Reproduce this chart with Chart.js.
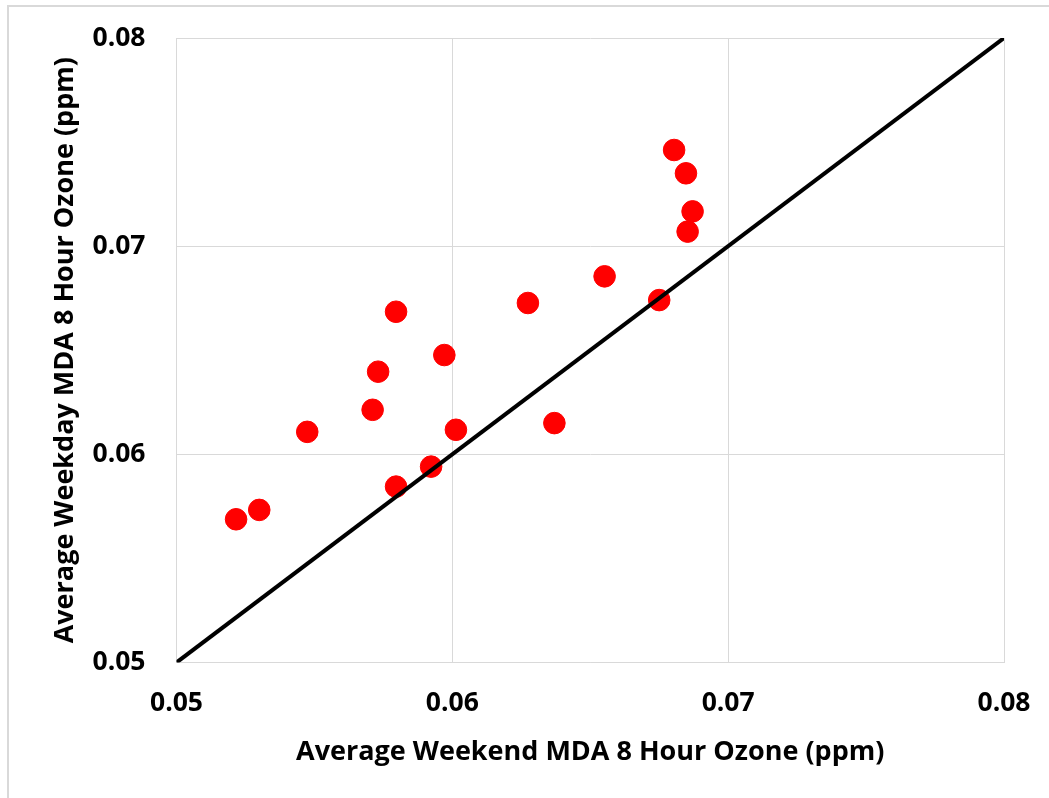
<!DOCTYPE html>
<html>
<head>
<meta charset="utf-8">
<script src="https://cdn.jsdelivr.net/npm/chart.js@4.4.1/dist/chart.umd.min.js"></script>
<style>
  html, body { margin: 0; padding: 0; background: #fff; overflow: hidden; }
  #wrap { width: 1049px; height: 798px; position: relative; }
  #frame { position: absolute; left: 7px; top: 5px; width: 1100px; height: 792px;
           border-left: 2px solid #d9d9d9; border-top: 2px solid #d9d9d9; pointer-events: none; }
</style>
</head>
<body>
<div id="wrap"><canvas id="Scatter"></canvas><div id="frame"></div></div>
<script>
// weekend vs weekday ozone averages (ppm)
const weekendOzone = [0.05216, 0.0530, 0.05474, 0.05711, 0.05731, 0.05796, 0.05796, 0.05923, 0.05971,
    0.06013, 0.06274, 0.0637, 0.06552, 0.0675, 0.06804, 0.06847, 0.06871, 0.06853];
const weekdayOzone = [0.05688, 0.05733, 0.06108, 0.06214, 0.06397, 0.06685, 0.05845, 0.05941, 0.06477,
    0.06118, 0.06727, 0.0615, 0.06855, 0.06741, 0.07462, 0.0735, 0.07167, 0.0707];
const oneToOne = [0.05, 0.08];
const tickValues = [0.05, 0.06, 0.07, 0.08];

const Scatter = document.getElementById('Scatter');
const points = weekendOzone.map((x, i) => ({ x: x, y: weekdayOzone[i] }));
const diagonal = oneToOne.map(v => ({ x: v, y: v }));

const tickFont = { family: '"Open Sans", Lato, sans-serif', size: 26.5, weight: 'bold' };
const titleFont = { family: '"Open Sans", Lato, sans-serif', size: 27, weight: 'bold' };

new Chart(Scatter, {
    type: 'scatter',
    data: {
        datasets: [
            {
                label: '1:1',
                type: 'line',
                data: diagonal,
                borderColor: '#000000',
                borderWidth: 4,
                pointRadius: 0,
                fill: false
            },
            {
                label: 'Sites',
                data: points,
                backgroundColor: '#ff0000',
                borderColor: '#ff0000',
                pointRadius: 10.8,
                pointHoverRadius: 10.8
            }
        ]
    },
    options: {
        responsive: true,
        maintainAspectRatio: false,
        animation: false,
        devicePixelRatio: 1,
        layout: { padding: { top: 38, right: 45, left: 0, bottom: 0 } },
        plugins: {
            legend: { display: false },
            tooltip: { enabled: false }
        },
        scales: {
            x: {
                type: 'linear',
                min: 0.05,
                max: 0.08,
                afterBuildTicks: s => { s.ticks = tickValues.map(v => ({ value: v })); },
                afterFit: s => { s.height = 135.5; s.paddingLeft = 0; s.paddingRight = 0; },
                grid: { color: '#d9d9d9', lineWidth: 1, drawTicks: false },
                border: { color: '#d9d9d9', width: 1 },
                ticks: {
                    color: '#000',
                    font: tickFont,
                    padding: 25,
                    maxRotation: 0,
                    callback: v => v.toFixed(2)
                },
                title: {
                    display: true,
                    text: 'Average Weekend MDA 8 Hour Ozone (ppm)',
                    color: '#000',
                    font: titleFont,
                    padding: { top: 0, bottom: 29 }
                }
            },
            y: {
                type: 'linear',
                min: 0.05,
                max: 0.08,
                afterBuildTicks: s => { s.ticks = tickValues.map(v => ({ value: v })); },
                afterFit: s => { s.width = 176.5; s.paddingTop = 0; s.paddingBottom = 0; },
                grid: { color: '#d9d9d9', lineWidth: 1, drawTicks: false },
                border: { color: '#d9d9d9', width: 1 },
                ticks: {
                    color: '#000',
                    font: tickFont,
                    padding: 31,
                    callback: v => v.toFixed(2)
                },
                title: {
                    display: true,
                    text: 'Average Weekday MDA 8 Hour Ozone (ppm)',
                    color: '#000',
                    font: titleFont,
                    padding: { top: 49, bottom: 0 }
                }
            }
        }
    }
});
</script>
</body>
</html>
